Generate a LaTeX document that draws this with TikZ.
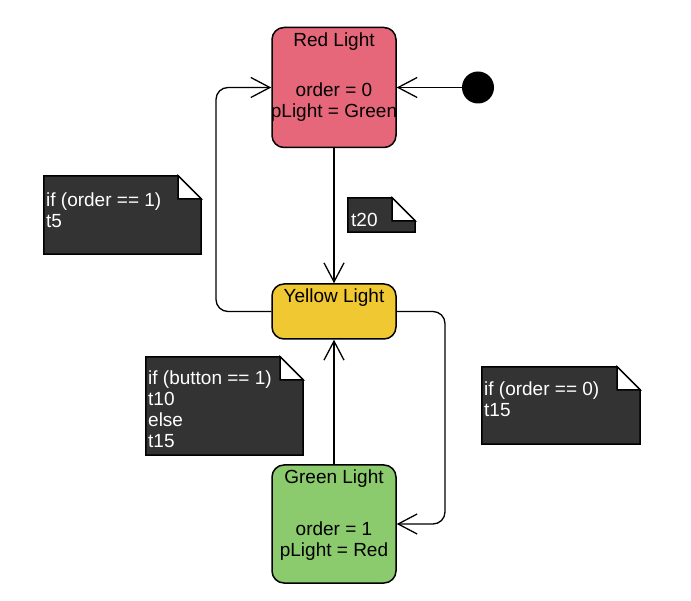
\documentclass[tikz,border=0pt]{standalone}
\usepackage{fontspec}
\setmainfont{Liberation Sans}
\usetikzlibrary{arrows.meta}
\definecolor{redfill}{HTML}{E6677A}
\definecolor{yellowfill}{HTML}{F0C832}
\definecolor{greenfill}{HTML}{8CCA6E}
\definecolor{notefill}{HTML}{333333}
\newcommand{\notefold}[1]{%
  \filldraw[fill=notefill, draw=black, line width=1.5pt] (#1.south west) -- (#1.north west) -- ([xshift=-23pt]#1.north east) -- ([yshift=-23pt]#1.north east) -- (#1.south east) -- cycle;
  \filldraw[fill=white, draw=black, line width=1.5pt, line join=miter] ([xshift=-23pt]#1.north east) -- ([xshift=-23pt,yshift=-23pt]#1.north east) -- ([yshift=-23pt]#1.north east) -- cycle;}
\begin{document}
\begin{tikzpicture}[x=1pt,y=-1pt,
  font=\fontsize{19}{21}\selectfont,
  state/.style={draw=black, line width=1.5pt, rounded corners=12pt, minimum width=124pt, inner sep=0pt},
  conn/.style={draw=black, line width=1.3pt, -{Straight Barb[length=19pt,width=20pt,line width=1.3pt]}},
  notebox/.style={draw=none, inner sep=0pt},
  notetext/.style={text=white, anchor=north west, align=left, inner sep=0pt},
  label/.style={text=black, inner sep=0pt}]
\useasboundingbox (0,0) rectangle (691,601);

% states
\node[state, fill=redfill, minimum height=120pt] (red) at (334,87.5) {};
\node[state, fill=yellowfill, minimum height=55pt] (yellow) at (334,311.5) {};
\node[state, fill=greenfill, minimum height=118pt] (green) at (334,524) {};
\node[circle, fill=black, minimum size=32pt, inner sep=0pt] (init) at (478,87.5) {};

% state texts
\node[label, anchor=base] (redtitle) at (334,46.7) {Red Light};
\node[label, anchor=north, align=center] (redbody) at (334,82) {\strut order = 0\\pLight = Green};
\node[label, anchor=base] (yellowtitle) at (334,302.7) {Yellow Light};
\node[label, anchor=base] (greentitle) at (334,483.3) {Green Light};
\node[label, anchor=north, align=center] (greenbody) at (334,520.3) {\strut order = 1\\pLight = Red};

% notes
\node[notebox, minimum width=157pt, minimum height=78pt] (n1) at (122.5,215) {};
\notefold{n1}
\node[notetext] (n1t) at (46,191.3) {\strut if (order == 1)\\t5};

\node[notebox, minimum width=67pt, minimum height=34pt] (n2) at (381.5,215) {};
\notefold{n2}
\node[notetext] (n2t) at (351,211.3) {\strut t20};

\node[notebox, minimum width=157pt, minimum height=98pt] (n3) at (224.5,406) {};
\notefold{n3}
\node[notetext] (n3t) at (148,369.3) {\strut if (button == 1)\\t10\\else\\t15};

\node[notebox, minimum width=158pt, minimum height=77pt] (n4) at (561,405.5) {};
\notefold{n4}
\node[notetext] (n4t) at (484,380.3) {\strut if (order == 0)\\t15};

% connectors
\coordinate (lx) at (216,0);
\coordinate (rx) at (445,0);
\draw[conn] (init) -- (red.east);
\draw[conn] (red) -- (yellow);
\draw[conn] (green) -- (yellow);
\draw[conn, rounded corners=12pt] (yellow.west) -- (yellow.west -| lx) -- (red.west -| lx) -- (red.west);
\draw[conn, rounded corners=12pt] (yellow.east) -- (yellow.east -| rx) -- (green.east -| rx) -- (green.east);
\end{tikzpicture}
\end{document}
